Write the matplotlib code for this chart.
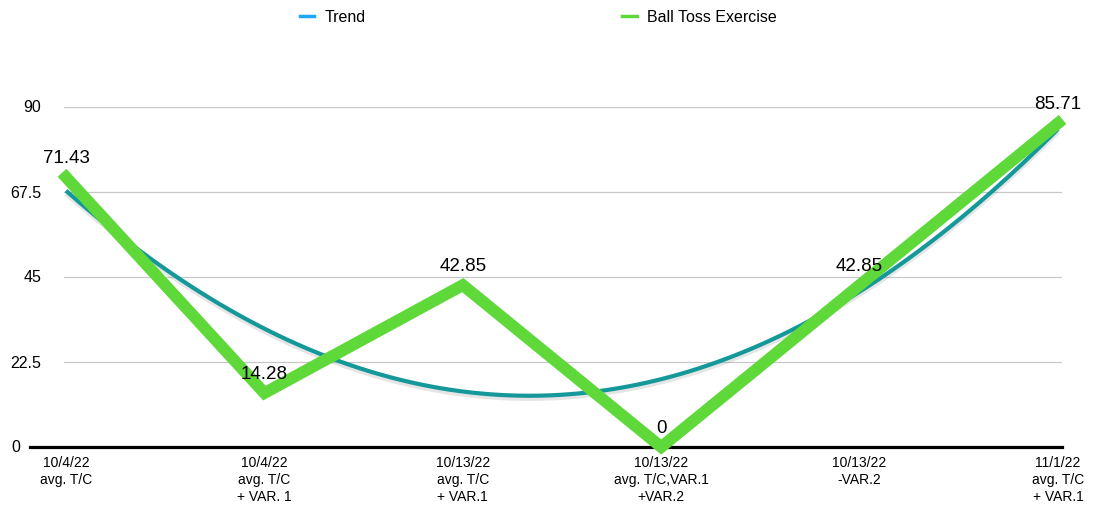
import numpy as np
import matplotlib
matplotlib.use("Agg")
import matplotlib.pyplot as plt
import matplotlib.patheffects as pe
from matplotlib.lines import Line2D

# data
categories = ["10/4/22\navg. T/C", "10/4/22\navg. T/C\n+ VAR. 1", "10/13/22\navg. T/C\n+ VAR.1",
              "10/13/22\navg. T/C,VAR.1\n+VAR.2", "10/13/22\n-VAR.2", "11/1/22\navg. T/C\n+ VAR.1"]
ball_toss = [71.43, 14.28, 42.85, 0, 42.85, 85.71]
value_labels = ["71.43", "14.28", "42.85", "0", "42.85", "85.71"]
y_ticks = [0, 22.5, 45, 67.5, 90]
y_tick_labels = ["0", "22.5", "45", "67.5", "90"]

plt.rcParams['font.family'] = ['Liberation Sans', 'DejaVu Sans']

fig = plt.figure(figsize=(11.07, 5.10), dpi=100)
ax = fig.add_axes([30/1107, 62/510, 1032/1107, 340/510])

x = np.arange(len(ball_toss))
ax.set_xlim(-36/198.4, 5 + 4/198.4)
ax.set_ylim(0, 90)

# gridlines
for t in y_ticks[1:]:
    ax.axhline(t, xmin=34/1032, xmax=1, color='#c8c8c8', lw=0.9, zorder=1)
ax.axhline(0, color='black', lw=2.3, zorder=2, clip_on=False)

# trend (quadratic fit)
coef = np.polyfit(x, ball_toss, 2)
xs = np.linspace(0, 5, 200)
ax.plot(xs, np.polyval(coef, xs), color='#14989a', lw=3, zorder=3, solid_capstyle='butt',
        path_effects=[pe.SimpleLineShadow(offset=(0, -2), shadow_color='gray', alpha=0.2, linewidth=3.5),
                      pe.Normal()])

ax.plot(x, ball_toss, color='#5fd83a', lw=8.5, zorder=4, solid_joinstyle='miter', clip_on=False)

for xi, yi, lab in zip(x, ball_toss, value_labels):
    ax.annotate(lab, (xi, yi), xytext=(0, 14), textcoords='offset points',
                ha='center', va='center', fontsize=13.5, zorder=5)

for s in ax.spines.values():
    s.set_visible(False)
ax.set_xticks(x)
ax.set_xticklabels(categories, fontsize=10, linespacing=1.25, family=['Liberation Sans Narrow', 'Liberation Sans'])
ax.tick_params(axis='x', length=0, pad=6)
ax.set_yticks([])

for t, lab in zip(y_ticks, y_tick_labels):
    xpos = 20/1107 if t == 0 else 41/1107
    fig.text(xpos, 1 - (448 - t*340/90)/510, lab, ha='right', va='center', fontsize=11.5)

# legend
ly = 1 - 17/510
fig.add_artist(Line2D([300/1107, 314/1107], [ly, ly], color='#1ea7f5', lw=2.5))
fig.text(325/1107, ly, "Trend", va='center', fontsize=11.5)
fig.add_artist(Line2D([622/1107, 637/1107], [ly, ly], color='#5fd83a', lw=2.5))
fig.text(647/1107, ly, "Ball Toss Exercise", va='center', fontsize=11.5)

fig.savefig("out.png", dpi=100)
